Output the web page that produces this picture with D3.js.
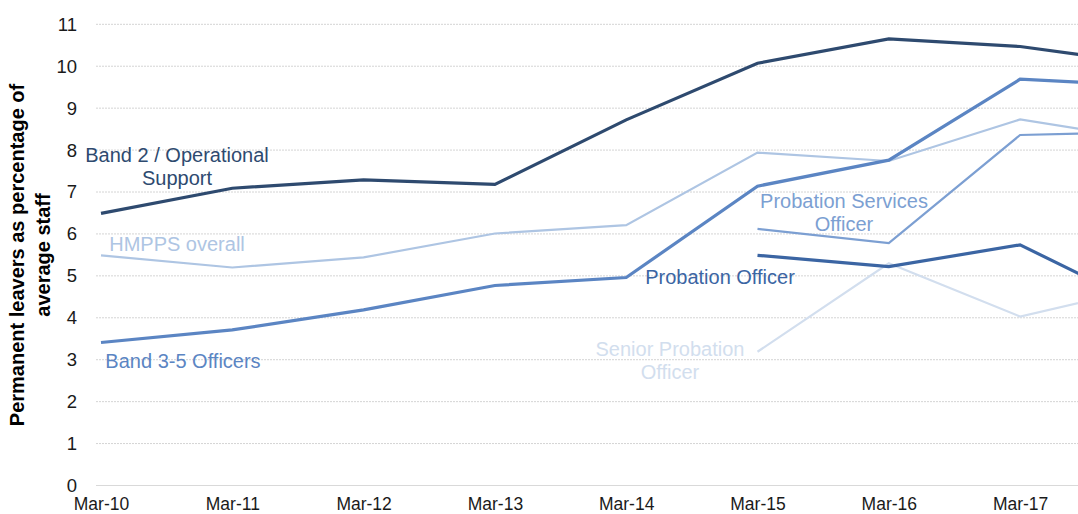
<!DOCTYPE html>
<html>
<head>
<meta charset="utf-8">
<script src="https://cdn.jsdelivr.net/npm/d3@7"></script>
<style>
  html, body { margin: 0; padding: 0; background: #fff; }
  svg { display: block; }
  text { font-family: "Liberation Sans", Arial, sans-serif; }
</style>
</head>
<body>
<svg id="chart" width="1078" height="514"></svg>
<script>
// Categories (last one lies beyond the visible crop of the chart)
const categories = ["Mar-10","Mar-11","Mar-12","Mar-13","Mar-14","Mar-15","Mar-16","Mar-17","Mar-18"];
const xTickLabels = ["Mar-10","Mar-11","Mar-12","Mar-13","Mar-14","Mar-15","Mar-16","Mar-17"];
const yTicks = [0,1,2,3,4,5,6,7,8,9,10,11];

const band2      = [6.49, 7.09, 7.29, 7.18, 8.72, 10.07, 10.65, 10.47, 10.04];
const band35     = [3.41, 3.71, 4.19, 4.77, 4.96, 7.14, 7.76, 9.69, 9.53];
const hmpps      = [5.49, 5.20, 5.44, 6.01, 6.21, 7.94, 7.74, 8.73, 8.23];
const pso        = [null, null, null, null, null, 6.12, 5.78, 8.36, 8.43];
const po         = [null, null, null, null, null, 5.49, 5.22, 5.74, 4.20];
const spo        = [null, null, null, null, null, 3.19, 5.30, 4.03, 4.75];

const seriesNames = ["Band 2 / Operational Support","Band 3-5 Officers","HMPPS overall",
                     "Probation Services Officer","Probation Officer","Senior Probation Officer"];

const svg = d3.select("#chart");
const W = 1078, H = 514;

const x = d3.scalePoint().domain(categories).range([101, 101 + 8 * 131.3]);
const y = d3.scaleLinear().domain([0, 11]).range([485.5, 24.3]);

// gridlines
svg.append("g").selectAll("line").data(yTicks.filter(d => d > 0)).join("line")
  .attr("x1", 96).attr("x2", W)
  .attr("y1", d => y(d)).attr("y2", d => y(d))
  .attr("stroke", "#d4d4d4").attr("stroke-width", 1)
  .attr("stroke-dasharray", "2,1");
svg.append("line").attr("x1", 96).attr("x2", W)
  .attr("y1", y(0)).attr("y2", y(0))
  .attr("stroke", "#d9d9d9").attr("stroke-width", 1);

// y axis
const yAxis = d3.axisLeft(y).tickValues(yTicks).tickSize(0).tickPadding(0);
const gy = svg.append("g").attr("transform", "translate(77,0)").call(yAxis);
gy.select(".domain").remove();
gy.selectAll("text").attr("font-size", 18.5).attr("fill", "#1a1a1a")
  .style("font-family", "'Liberation Sans', Arial, sans-serif");

// x axis
const xAxis = d3.axisBottom(x).tickValues(xTickLabels).tickSize(0).tickPadding(0);
const gx = svg.append("g").attr("transform", "translate(0,498)").call(xAxis);
gx.select(".domain").remove();
gx.selectAll("text").attr("font-size", 17.5).attr("fill", "#1a1a1a")
  .style("font-family", "'Liberation Sans', Arial, sans-serif");

// y axis title
const yt = svg.append("text")
  .attr("transform", "translate(24,255) rotate(-90)")
  .attr("text-anchor", "middle")
  .attr("font-size", 20).attr("font-weight", "bold").attr("fill", "#000");
yt.append("tspan").attr("x", 0).attr("dy", 0).text("Permanent leavers as percentage of");
yt.append("tspan").attr("x", 0).attr("dy", 26).text("average staff");

// lines
const series = [
  {name: seriesNames[2], values: hmpps,  color: "#aec5e3", width: 2.2},
  {name: seriesNames[5], values: spo,    color: "#d2deee", width: 2.2},
  {name: seriesNames[3], values: pso,    color: "#7c9fd2", width: 2.2},
  {name: seriesNames[1], values: band35, color: "#5b85c3", width: 3.2},
  {name: seriesNames[4], values: po,     color: "#3b65a3", width: 3.2},
  {name: seriesNames[0], values: band2,  color: "#2e4a6f", width: 3.2},
];

const line = d3.line()
  .defined(d => d.v !== null)
  .x(d => x(d.c)).y(d => y(d.v));

svg.append("g").selectAll("path").data(series).join("path")
  .attr("d", s => line(categories.map((c, i) => ({c, v: s.values[i]}))))
  .attr("fill", "none")
  .attr("stroke", s => s.color)
  .attr("stroke-width", s => s.width)
  .attr("stroke-linejoin", "miter");

// labels
const labels = [
  {lines: ["Band 2 / Operational", "Support"], x: 177, y: 162, color: "#2e4a6f"},
  {lines: ["HMPPS overall"], x: 177, y: 251, color: "#aec5e3"},
  {lines: ["Band 3-5 Officers"], x: 183, y: 368, color: "#5b85c3"},
  {lines: ["Probation Officer"], x: 720, y: 284, color: "#3b65a3"},
  {lines: ["Probation Services", "Officer"], x: 844, y: 208, color: "#7c9fd2"},
  {lines: ["Senior Probation", "Officer"], x: 670, y: 356, color: "#d2deee"},
];
labels.forEach(l => {
  const t = svg.append("text").attr("text-anchor", "middle")
    .attr("font-size", 20).attr("fill", l.color);
  l.lines.forEach((s, i) => {
    t.append("tspan").attr("x", l.x).attr("y", l.y + i * 23).text(s);
  });
});
</script>
</body>
</html>
